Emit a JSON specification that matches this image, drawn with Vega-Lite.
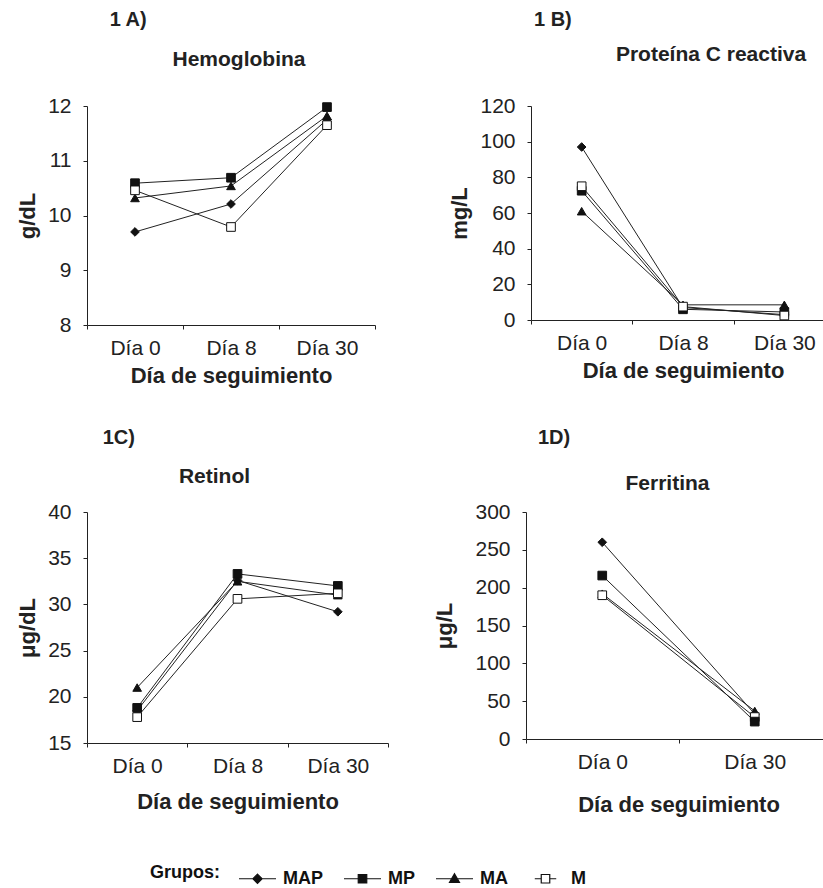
{
  "$schema": "https://vega.github.io/schema/vega-lite/v6.json",
  "padding": {"left": 16, "top": 10, "right": 0, "bottom": 0},
  "background": "white",
  "config": {
    "font": "Liberation Sans",
    "view": {"stroke": null},
    "axis": {"grid": false, "domainColor": "#222", "tickColor": "#222", "labelColor": "#222", "titleColor": "#222", "labelFontSize": 21, "titleFontSize": 22, "titleFontWeight": "bold", "tickSize": 4},
    "axisX": {"labelPadding": 8, "labelAngle": 0, "titlePadding": 7},
    "axisY": {"labelPadding": 12, "titleFontSize": 22, "titlePadding": 8},
    "title": {"font": "Liberation Sans", "fontWeight": "bold", "color": "#222"},
    "legend": {"titleFontSize": 18, "titleFontWeight": "bold", "titleColor": "#111", "titlePadding": 18, "labelFontSize": 18, "labelFontWeight": "bold", "labelColor": "#111", "labelOffset": 6, "symbolStrokeWidth": 1.2, "columnPadding": 18}
  },
  "resolve": {"scale": {"shape": "independent", "fill": "independent", "stroke": "independent"}, "legend": {"shape": "independent", "fill": "independent", "stroke": "independent"}},
  "datasets": {
    "hb": [
      {"grupo": "MAP", "dia": "Día 0", "valor": 9.7},
      {"grupo": "MAP", "dia": "Día 8", "valor": 10.21},
      {"grupo": "MAP", "dia": "Día 30", "valor": 11.75},
      {"grupo": "MP", "dia": "Día 0", "valor": 10.59},
      {"grupo": "MP", "dia": "Día 8", "valor": 10.69},
      {"grupo": "MP", "dia": "Día 30", "valor": 11.98},
      {"grupo": "MA", "dia": "Día 0", "valor": 10.32},
      {"grupo": "MA", "dia": "Día 8", "valor": 10.54},
      {"grupo": "MA", "dia": "Día 30", "valor": 11.82},
      {"grupo": "M", "dia": "Día 0", "valor": 10.46},
      {"grupo": "M", "dia": "Día 8", "valor": 9.79},
      {"grupo": "M", "dia": "Día 30", "valor": 11.65}
    ],
    "pcr": [
      {"grupo": "MAP", "dia": "Día 0", "valor": 97},
      {"grupo": "MAP", "dia": "Día 8", "valor": 7},
      {"grupo": "MAP", "dia": "Día 30", "valor": 3},
      {"grupo": "MP", "dia": "Día 0", "valor": 72.5},
      {"grupo": "MP", "dia": "Día 8", "valor": 6},
      {"grupo": "MP", "dia": "Día 30", "valor": 4.5},
      {"grupo": "MA", "dia": "Día 0", "valor": 61},
      {"grupo": "MA", "dia": "Día 8", "valor": 8.5},
      {"grupo": "MA", "dia": "Día 30", "valor": 8.5},
      {"grupo": "M", "dia": "Día 0", "valor": 75},
      {"grupo": "M", "dia": "Día 8", "valor": 7.5},
      {"grupo": "M", "dia": "Día 30", "valor": 2.5}
    ],
    "ret": [
      {"grupo": "MAP", "dia": "Día 0", "valor": 18.5},
      {"grupo": "MAP", "dia": "Día 8", "valor": 32.6},
      {"grupo": "MAP", "dia": "Día 30", "valor": 29.2},
      {"grupo": "MP", "dia": "Día 0", "valor": 18.8},
      {"grupo": "MP", "dia": "Día 8", "valor": 33.3},
      {"grupo": "MP", "dia": "Día 30", "valor": 32.0},
      {"grupo": "MA", "dia": "Día 0", "valor": 21.0},
      {"grupo": "MA", "dia": "Día 8", "valor": 32.5},
      {"grupo": "MA", "dia": "Día 30", "valor": 31.0},
      {"grupo": "M", "dia": "Día 0", "valor": 17.8},
      {"grupo": "M", "dia": "Día 8", "valor": 30.6},
      {"grupo": "M", "dia": "Día 30", "valor": 31.2}
    ],
    "fer": [
      {"grupo": "MAP", "dia": "Día 0", "valor": 260},
      {"grupo": "MAP", "dia": "Día 30", "valor": 33},
      {"grupo": "MA", "dia": "Día 0", "valor": 192},
      {"grupo": "MA", "dia": "Día 30", "valor": 37},
      {"grupo": "M", "dia": "Día 0", "valor": 190},
      {"grupo": "M", "dia": "Día 30", "valor": 29},
      {"grupo": "MP", "dia": "Día 0", "valor": 216},
      {"grupo": "MP", "dia": "Día 30", "valor": 23}
    ]
  },
  "spacing": 42,
  "vconcat": [
    {
      "spacing": 72,
      "hconcat": [
        {
          "title": {"text": "1 A)", "anchor": "start", "frame": "bounds", "dx": 93, "fontSize": 20, "offset": 19},
          "vconcat": [
            {
              "width": 288, "height": 219,
              "title": {"text": "Hemoglobina", "frame": "group", "anchor": "middle", "dx": 8, "fontSize": 21, "offset": 25},
              "data": {"name": "hb"},
              "encoding": {
                "x": {"field": "dia", "type": "nominal", "sort": ["Día 0", "Día 8", "Día 30"], "scale": {"type": "band", "paddingInner": 0, "paddingOuter": 0}, "axis": {"title": "Día de seguimiento", "tickBand": "extent"}},
                "y": {"field": "valor", "type": "quantitative", "scale": {"domain": [8, 12], "nice": false, "zero": false}, "axis": {"title": "g/dL", "values": [8, 9, 10, 11, 12]}}
              },
              "layer": [
                {"mark": {"type": "line", "color": "#222", "strokeWidth": 1}, "encoding": {"detail": {"field": "grupo"}}},
                {"mark": {"type": "point", "filled": true, "size": 75, "stroke": "#111", "strokeWidth": 1, "opacity": 1},
                 "encoding": {
                   "shape": {"field": "grupo", "type": "nominal", "scale": {"domain": ["MAP", "MP", "MA", "M"], "range": ["diamond", "square", "triangle-up", "square"]}, "legend": null},
                   "fill": {"field": "grupo", "type": "nominal", "scale": {"domain": ["MAP", "MP", "MA", "M"], "range": ["#111", "#111", "#111", "white"]}, "legend": null}
                 }}
              ]
            }
          ]
        },
        {
          "title": {"text": "1 B)", "anchor": "start", "frame": "bounds", "dx": 85, "fontSize": 20, "offset": 14},
          "vconcat": [
            {
              "width": 304, "height": 214,
              "title": {"text": "Proteína C reactiva", "frame": "group", "anchor": "middle", "dx": 28, "fontSize": 21, "offset": 30},
              "data": {"name": "pcr"},
              "encoding": {
                "x": {"field": "dia", "type": "nominal", "sort": ["Día 0", "Día 8", "Día 30"], "scale": {"type": "band", "paddingInner": 0, "paddingOuter": 0}, "axis": {"title": "Día de seguimiento", "tickBand": "extent"}},
                "y": {"field": "valor", "type": "quantitative", "scale": {"domain": [0, 120], "nice": false}, "axis": {"title": "mg/L", "values": [0, 20, 40, 60, 80, 100, 120]}}
              },
              "layer": [
                {"mark": {"type": "line", "color": "#222", "strokeWidth": 1}, "encoding": {"detail": {"field": "grupo"}}},
                {"mark": {"type": "point", "filled": true, "size": 75, "stroke": "#111", "strokeWidth": 1, "opacity": 1},
                 "encoding": {
                   "shape": {"field": "grupo", "type": "nominal", "scale": {"domain": ["MAP", "MP", "MA", "M"], "range": ["diamond", "square", "triangle-up", "square"]}, "legend": null},
                   "fill": {"field": "grupo", "type": "nominal", "scale": {"domain": ["MAP", "MP", "MA", "M"], "range": ["#111", "#111", "#111", "white"]}, "legend": null}
                 }}
              ]
            }
          ]
        }
      ]
    },
    {
      "spacing": 44,
      "hconcat": [
        {
          "title": {"text": "1C)", "anchor": "start", "frame": "bounds", "dx": 86, "fontSize": 20, "offset": 18},
          "vconcat": [
            {
              "width": 301, "height": 231,
              "title": {"text": "Retinol", "frame": "group", "anchor": "middle", "dx": -23, "fontSize": 21, "offset": 14},
              "data": {"name": "ret"},
              "encoding": {
                "x": {"field": "dia", "type": "nominal", "sort": ["Día 0", "Día 8", "Día 30"], "scale": {"type": "band", "paddingInner": 0, "paddingOuter": 0}, "axis": {"title": "Día de seguimiento", "tickBand": "extent", "titlePadding": 15}},
                "y": {"field": "valor", "type": "quantitative", "scale": {"domain": [15, 40], "nice": false, "zero": false}, "axis": {"title": "μg/dL", "values": [15, 20, 25, 30, 35, 40]}}
              },
              "layer": [
                {"mark": {"type": "line", "color": "#222", "strokeWidth": 1}, "encoding": {"detail": {"field": "grupo"}}},
                {"mark": {"type": "point", "filled": true, "size": 75, "stroke": "#111", "strokeWidth": 1, "opacity": 1},
                 "encoding": {
                   "shape": {"field": "grupo", "type": "nominal", "scale": {"domain": ["MAP", "MP", "MA", "M"], "range": ["diamond", "square", "triangle-up", "square"]}, "legend": null},
                   "fill": {"field": "grupo", "type": "nominal", "scale": {"domain": ["MAP", "MP", "MA", "M"], "range": ["#111", "#111", "#111", "white"]}, "legend": null}
                 }}
              ]
            }
          ]
        },
        {
          "title": {"text": "1D)", "anchor": "start", "frame": "bounds", "dx": 104, "fontSize": 20, "offset": 25},
          "vconcat": [
            {
              "width": 305, "height": 227,
              "title": {"text": "Ferritina", "frame": "group", "anchor": "middle", "dx": -11, "fontSize": 21, "offset": 7},
              "data": {"name": "fer"},
              "encoding": {
                "x": {"field": "dia", "type": "nominal", "sort": ["Día 0", "Día 30"], "scale": {"type": "band", "paddingInner": 0, "paddingOuter": 0}, "axis": {"title": "Día de seguimiento", "tickBand": "extent", "titlePadding": 22}},
                "y": {"field": "valor", "type": "quantitative", "scale": {"domain": [0, 300], "nice": false}, "axis": {"title": "μg/L", "values": [0, 50, 100, 150, 200, 250, 300], "titlePadding": 18}}
              },
              "layer": [
                {"mark": {"type": "line", "color": "#222", "strokeWidth": 1}, "encoding": {"detail": {"field": "grupo"}}},
                {"mark": {"type": "point", "filled": true, "size": 75, "stroke": "#111", "strokeWidth": 1, "opacity": 1},
                 "encoding": {
                   "shape": {"field": "grupo", "type": "nominal", "scale": {"domain": ["MAP", "MP", "MA", "M"], "range": ["diamond", "square", "triangle-up", "square"]}, "legend": null},
                   "fill": {"field": "grupo", "type": "nominal", "scale": {"domain": ["MAP", "MP", "MA", "M"], "range": ["#111", "#111", "#111", "white"]}, "legend": null}
                 }}
              ]
            }
          ]
        }
      ]
    },
    {
      "width": 1, "height": 1,
      "data": {"name": "hb"},
      "mark": {"type": "point", "filled": true, "clip": true, "size": 1369, "strokeWidth": 1.2, "opacity": 1},
      "encoding": {
        "x": {"field": "valor", "type": "quantitative", "scale": {"domain": [1000, 2000]}, "axis": null},
        "shape": {"field": "grupo", "type": "nominal", "scale": {"domain": ["MAP", "MP", "MA", "M"], "range": ["M-1,0L1,0M0,-0.25L0.25,0L0,0.25L-0.25,0Z", "M-1,0L1,0M-0.23,-0.23L0.23,-0.23L0.23,0.23L-0.23,0.23Z", "M-1,0L1,0M0,-0.27L0.27,0.2L-0.27,0.2Z", "M-0.58,0L-0.23,0M0.23,0L0.58,0M-0.23,-0.23L0.23,-0.23L0.23,0.23L-0.23,0.23Z"]}, "legend": {"title": "Grupos:", "orient": "none", "legendX": 63, "legendY": 2, "direction": "horizontal", "titleOrient": "left", "titleAnchor": "middle", "titleBaseline": "middle", "symbolSize": 1369}},
        "fill": {"field": "grupo", "type": "nominal", "scale": {"domain": ["MAP", "MP", "MA", "M"], "range": ["#111", "#111", "#111", "white"]}, "legend": {"title": "Grupos:", "orient": "none", "legendX": 63, "legendY": 2, "direction": "horizontal", "titleOrient": "left", "titleAnchor": "middle", "titleBaseline": "middle", "symbolSize": 1369}},
        "stroke": {"field": "grupo", "type": "nominal", "scale": {"domain": ["MAP", "MP", "MA", "M"], "range": ["#111", "#111", "#111", "#111"]}, "legend": {"title": "Grupos:", "orient": "none", "legendX": 63, "legendY": 2, "direction": "horizontal", "titleOrient": "left", "titleAnchor": "middle", "titleBaseline": "middle", "symbolSize": 1369}}
      }
    }
  ]
}
